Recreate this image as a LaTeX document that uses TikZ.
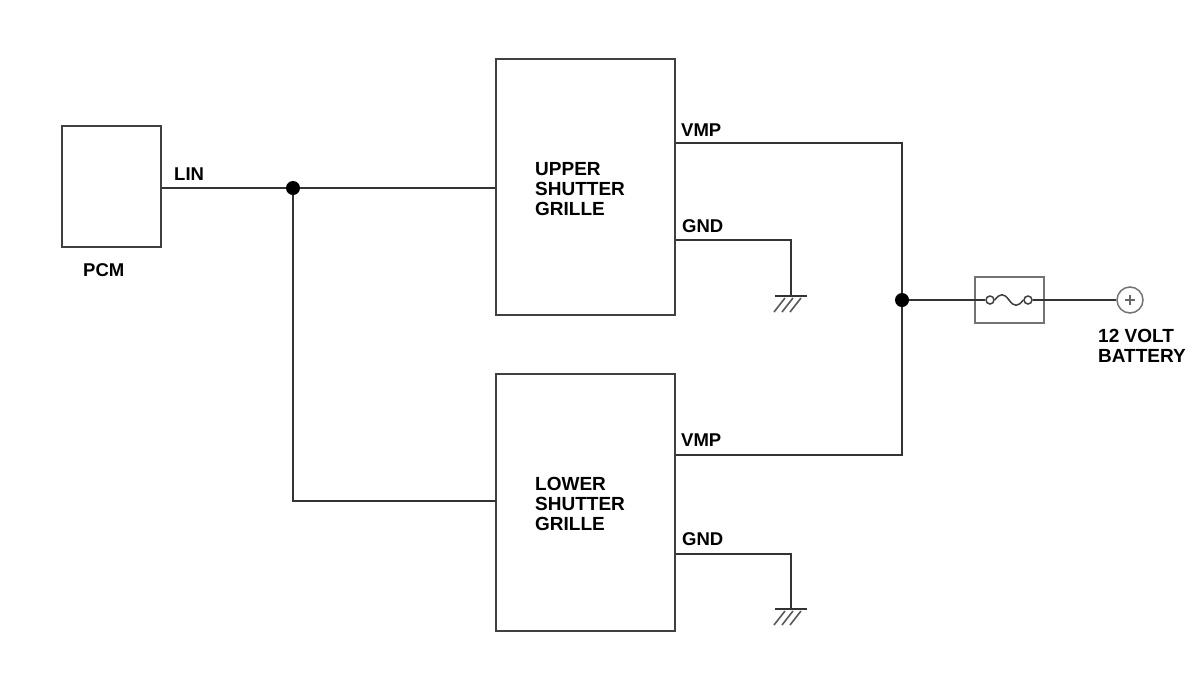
\documentclass[tikz,border=0pt]{standalone}
\usepackage{fontspec}
\setmainfont{Liberation Sans}
\begin{document}
\begin{tikzpicture}[x=1pt,y=-1pt,
  wire/.style={draw=black!80,line width=2.2pt},
  blockbox/.style={draw=black!75,line width=2.2pt,rectangle,inner sep=0pt},
  lightbox/.style={draw=black!55,line width=1.7pt,rectangle,inner sep=0pt},
  lbl/.style={font=\fontsize{18.5}{20}\selectfont\bfseries,inner sep=0pt,anchor=base west},
  boxtxt/.style={font=\fontsize{19}{20}\selectfont\bfseries,inner sep=0pt,anchor=north west,align=left},
  jdot/.style={circle,fill=black,inner sep=0pt,minimum size=14pt},
  gnd/.pic={
    \draw[black!80,line width=2.2pt] (-16,0) -- (16,0);
    \foreach \dx in {-8,0,8} \draw[black!65,line width=1.6pt] (\dx+2,2) -- (\dx-9,16);
  }]
\useasboundingbox (0,0) rectangle (1200,689);

% blocks
\node[blockbox,minimum width=179pt,minimum height=256pt] (upper) at (585.5,187) {};
\node[blockbox,minimum width=179pt,minimum height=257pt] (lower) at (585.5,502.5) {};
\node[blockbox,minimum width=99pt,minimum height=121pt] (pcm) at (111.5,186.5) {};
\node[lightbox,minimum width=69pt,minimum height=46pt] (fuse) at (1009.5,300) {};
\node[circle,draw=black!55,line width=1.5pt,minimum size=26pt,inner sep=0pt] (bat) at (1130,300) {};
\draw[black!60,line width=1.1pt] (1125,300) -- (1135,300) (1130,295) -- (1130,305);

% texts
\node[lbl] (tpcm) at (83,276) {PCM};
\node[lbl] (tlin) at (174,180) {LIN};
\node[boxtxt] (tupper) at (535,162) {UPPER\\SHUTTER\\GRILLE};
\node[boxtxt] (tlower) at (535,477) {LOWER\\SHUTTER\\GRILLE};
\node[lbl] (tvmpu) at (681,136) {VMP};
\node[lbl] (tgndu) at (682,232) {GND};
\node[lbl] (tvmpl) at (681,446) {VMP};
\node[lbl] (tgndl) at (682,545) {GND};
\node[boxtxt] (tbat) at (1098,329) {12 VOLT\\BATTERY};

% junctions
\coordinate (lw) at (496,501);
\coordinate (vu) at (902,143);
\coordinate (vl) at (902,455);
\coordinate (gu) at (791,240);
\coordinate (gl) at (791,554);
\coordinate (gus) at (791,296);
\coordinate (gls) at (791,609);
\coordinate (j1c) at (293,188);
\coordinate (j2c) at (902,300);

% LIN wiring
\draw[wire] (pcm.east |- j1c) -- (j1c) -- (upper.west |- j1c);
\draw[wire] (j1c) |- (lw);

% VMP wiring
\draw[wire] (upper.east |- vu) -- (vu) -- (vl) -- (lower.east |- vl);

% GND wiring
\draw[wire] (upper.east |- gu) -- (gu) -- (gus);
\draw[wire] (lower.east |- gl) -- (gl) -- (gls);
\pic at (gus) {gnd};
\pic at (gls) {gnd};

% fuse
\node[circle,draw=black!75,line width=1.5pt,minimum size=8pt,inner sep=0pt] (fl) at (990,300) {};
\node[circle,draw=black!75,line width=1.5pt,minimum size=8pt,inner sep=0pt] (fr) at (1028,300) {};
\draw[black!75,line width=1.5pt] (fl.east) .. controls (1000,293) and (1004,293) .. (1009,300) .. controls (1014,307) and (1018,307) .. (fr.west);
\draw[wire] (j2c) -- (fl.west);
\draw[wire] (fr.east) -- (bat.west);

% junction dots
\node[jdot] (j1) at (j1c) {};
\node[jdot] (j2) at (j2c) {};
\end{tikzpicture}
\end{document}
